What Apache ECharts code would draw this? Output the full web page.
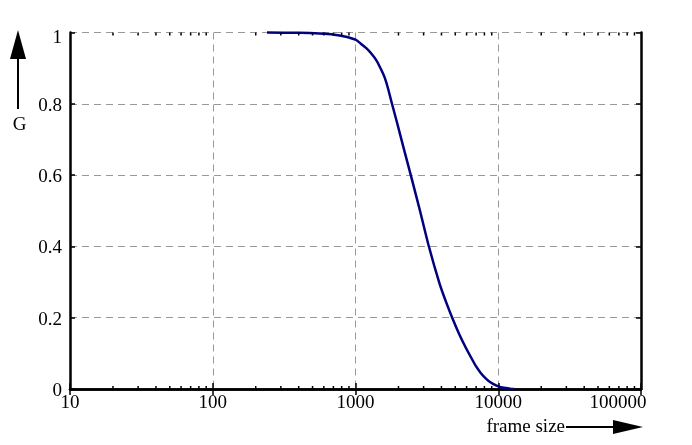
<!DOCTYPE html>
<html>
<head>
<meta charset="utf-8">
<script src="https://cdn.jsdelivr.net/npm/echarts@6/dist/echarts.min.js"></script>
<style>
html,body{margin:0;padding:0;background:#fff;}
#chart{width:692px;height:445px;}
</style>
</head>
<body>
<div id="chart"></div>
<script>
// Data
const frameSize = [240, 400, 560, 710, 840, 1000, 1080, 1190, 1290, 1400, 1500, 1600, 1690, 1780, 1970, 2170, 2450, 2810, 3260, 3870, 4300, 4790, 5340, 5940, 6480, 6980, 7540, 8200, 8860, 9640, 10400, 11300, 12100, 12900];
const gValue    = [1.0, 0.999, 0.997, 0.994, 0.989, 0.980, 0.970, 0.956, 0.941, 0.922, 0.899, 0.874, 0.843, 0.808, 0.742, 0.677, 0.597, 0.505, 0.401, 0.297, 0.245, 0.197, 0.153, 0.115, 0.087, 0.064, 0.045, 0.029, 0.018, 0.010, 0.005, 0.0025, 0.001, 0.0];
const yTicks = [0, 0.2, 0.4, 0.6, 0.8, 1];
const xDecades = [10, 100, 1000, 10000, 100000];
const minorMultipliers = [2, 3, 4, 5, 6, 7, 8, 9];
const xLabelText = 'frame size';
const yLabelText = 'G';

const minorTicks = [];
xDecades.slice(0, -1).forEach(d => minorMultipliers.forEach(m => minorTicks.push([d * m, 0])));

const FONT = "'Liberation Serif', 'Times New Roman', serif";
const FS = 19;

const chart = echarts.init(document.getElementById('chart'), null, {renderer: 'canvas'});

const commonLabel = {fontFamily: FONT, fontSize: FS, color: '#000'};
const axisLine = {show: true, lineStyle: {color: '#000', width: 2.5}};
const grid = {left: 70, right: 51, top: 32.5, bottom: 56};
const yMax = yTicks[yTicks.length - 1];

chart.setOption({
  animation: false,
  backgroundColor: '#fff',
  grid: grid,
  xAxis: [
    {
      type: 'log', logBase: 10, min: xDecades[0], max: xDecades[xDecades.length - 1],
      position: 'bottom',
      axisLine: axisLine,
      axisTick: {show: true, inside: true, length: 6, lineStyle: {color: '#000', width: 1.5}},
      minorTick: {show: false},
      axisLabel: Object.assign({}, commonLabel, {
        margin: 5,
        formatter: v => (v === 100000 ? '{m|' + v + '}' : String(v)),
        rich: {m: {fontFamily: FONT, fontSize: FS, color: '#000', padding: [0, 46, 0, 0]}}
      }),
      splitLine: {show: true, lineStyle: {color: '#999', width: 1, type: [7, 5]}}
    },
    {
      type: 'log', logBase: 10, min: xDecades[0], max: xDecades[xDecades.length - 1],
      position: 'top',
      axisLine: axisLine,
      axisTick: {show: true, inside: true, length: 6, lineStyle: {color: '#000', width: 1.5}},
      axisLabel: {show: false},
      splitLine: {show: false}
    }
  ],
  yAxis: [
    {
      type: 'value', min: yTicks[0], max: yMax, interval: 0.2,
      position: 'left',
      axisLine: axisLine,
      axisTick: {show: true, inside: true, length: 5, lineStyle: {color: '#000', width: 1.5}},
      axisLabel: Object.assign({}, commonLabel, {
        margin: 8,
        formatter: v => (v === yMax ? '{t|' + v + '}' : '{n|' + v + '}'),
        rich: {
          t: {fontFamily: FONT, fontSize: FS, color: '#000', padding: [12, 0, 0, 0]},
          n: {fontFamily: FONT, fontSize: FS, color: '#000', padding: [4, 0, 0, 0]}
        }
      }),
      splitLine: {show: true, lineStyle: {color: '#999', width: 1, type: [7, 5]}}
    },
    {
      type: 'value', min: yTicks[0], max: yMax, interval: 0.2,
      position: 'right',
      axisLine: axisLine,
      axisTick: {show: true, inside: true, length: 5, lineStyle: {color: '#000', width: 1.5}},
      axisLabel: {show: false},
      splitLine: {show: false}
    }
  ],
  series: [
    {
      type: 'custom',
      xAxisIndex: 0, yAxisIndex: 0,
      silent: true,
      clip: false,
      z: 5,
      encode: {x: 0, y: 1},
      data: minorTicks,
      renderItem: function (params, api) {
        const v = api.value(0);
        const b = api.coord([v, 0]);
        const t = api.coord([v, 1]);
        const st = {stroke: '#000', lineWidth: 1.5};
        return {
          type: 'group',
          children: [
            {type: 'line', shape: {x1: b[0], y1: b[1], x2: b[0], y2: b[1] - 3}, style: st},
            {type: 'line', shape: {x1: t[0], y1: t[1], x2: t[0], y2: t[1] + 3}, style: st}
          ]
        };
      }
    },
    {
      type: 'line',
      xAxisIndex: 0, yAxisIndex: 0,
      data: frameSize.map((x, i) => [x, gValue[i]]),
      smooth: 0.2,
      showSymbol: false,
      clip: false,
      z: 3,
      lineStyle: {color: '#000080', width: 2.5},
      itemStyle: {color: '#000080'}
    }
  ],
  graphic: [
    // Y arrow
    {type: 'line', shape: {x1: 18, y1: 109, x2: 18, y2: 56}, style: {stroke: '#000', lineWidth: 2}},
    {type: 'polygon', shape: {points: [[10, 59], [26, 59], [18, 30]]}, style: {fill: '#000'}},
    {type: 'text', x: 19.5, y: 125, style: {text: yLabelText, font: FS + 'px ' + FONT, fill: '#000', align: 'center', verticalAlign: 'middle'}},
    // X arrow
    {type: 'text', x: 565, y: 427, style: {text: xLabelText, font: FS + 'px ' + FONT, fill: '#000', align: 'right', verticalAlign: 'middle'}},
    {type: 'line', shape: {x1: 566, y1: 427, x2: 616, y2: 427}, style: {stroke: '#000', lineWidth: 2}},
    {type: 'polygon', shape: {points: [[613, 420], [613, 434], [643, 427]]}, style: {fill: '#000'}}
  ]
});
</script>
</body>
</html>
